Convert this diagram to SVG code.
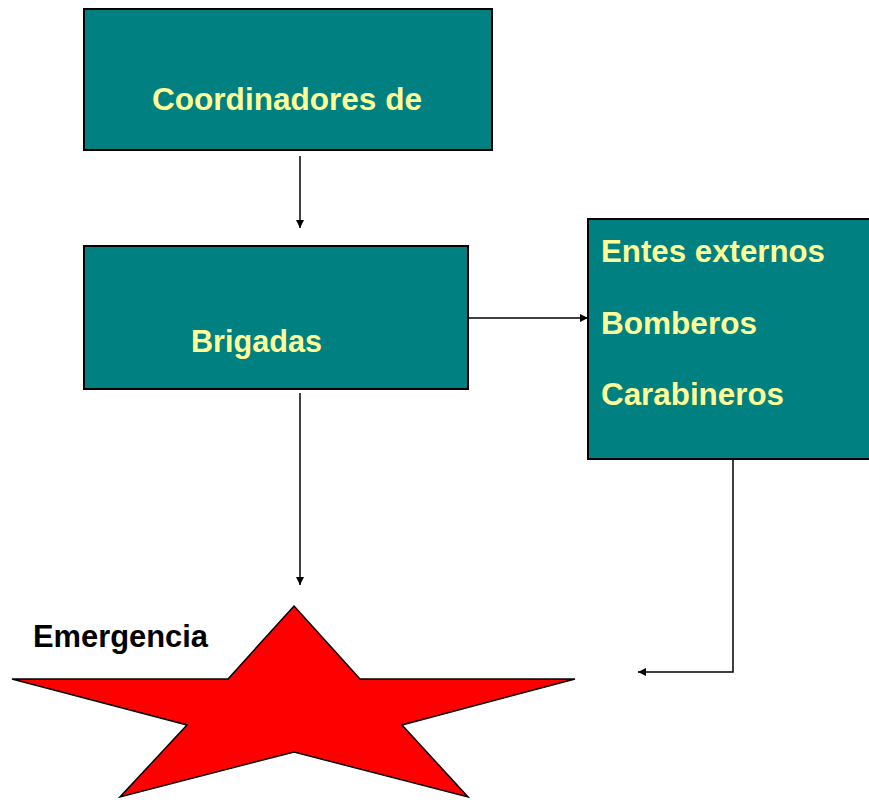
<svg xmlns="http://www.w3.org/2000/svg" width="869" height="800" viewBox="0 0 869 800">
<style>
.box{fill:#008080;stroke:#000;stroke-width:2}
.lbl{font-family:"Liberation Sans",Arial,sans-serif;font-weight:bold;font-size:31px;fill:#FFFF99}
.con{fill:none;stroke:#000;stroke-width:1.5}
</style>
<defs>
<marker id="ah" viewBox="0 0 10 10" refX="10" refY="5" markerWidth="8" markerHeight="8" orient="auto" markerUnits="userSpaceOnUse">
<path d="M0,0 L10,5 L0,10 z" fill="#000"/>
</marker>
</defs>
<rect width="869" height="800" fill="#fff"/>
<g id="coordinadores">
<rect class="box" x="84" y="9" width="408" height="141"/>
<text class="lbl" x="152" y="110" textLength="270" lengthAdjust="spacingAndGlyphs">Coordinadores de</text>
</g>
<g id="brigadas">
<rect class="box" x="84" y="246" width="384" height="143"/>
<text class="lbl" x="191" y="352" textLength="131" lengthAdjust="spacingAndGlyphs">Brigadas</text>
</g>
<g id="entes">
<rect class="box" x="588" y="219" width="290" height="240"/>
<text class="lbl" x="601" y="262" textLength="224" lengthAdjust="spacingAndGlyphs">Entes externos</text>
<text class="lbl" x="601" y="334" textLength="156" lengthAdjust="spacingAndGlyphs">Bomberos</text>
<text class="lbl" x="601" y="405" textLength="183" lengthAdjust="spacingAndGlyphs">Carabineros</text>
</g>
<g id="emergencia">
<polygon points="294,606 360,679 575,679 402,725 468,797 294,752 120,797 187,725 12,679 228,679" fill="#ff0000" stroke="#000" stroke-width="1.5" stroke-linejoin="miter"/>
<text x="33" y="647" font-family="'Liberation Sans',Arial,sans-serif" font-weight="bold" font-size="31" fill="#000" textLength="175" lengthAdjust="spacingAndGlyphs">Emergencia</text>
</g>
<g id="connectors">
<line class="con" x1="300" y1="156" x2="300" y2="228" marker-end="url(#ah)"/>
<line class="con" x1="300" y1="393" x2="300" y2="585" marker-end="url(#ah)"/>
<line class="con" x1="468" y1="318" x2="588" y2="318" marker-end="url(#ah)"/>
<polyline class="con" points="733,459 733,672 638,672" marker-end="url(#ah)"/>
</g>
</svg>
